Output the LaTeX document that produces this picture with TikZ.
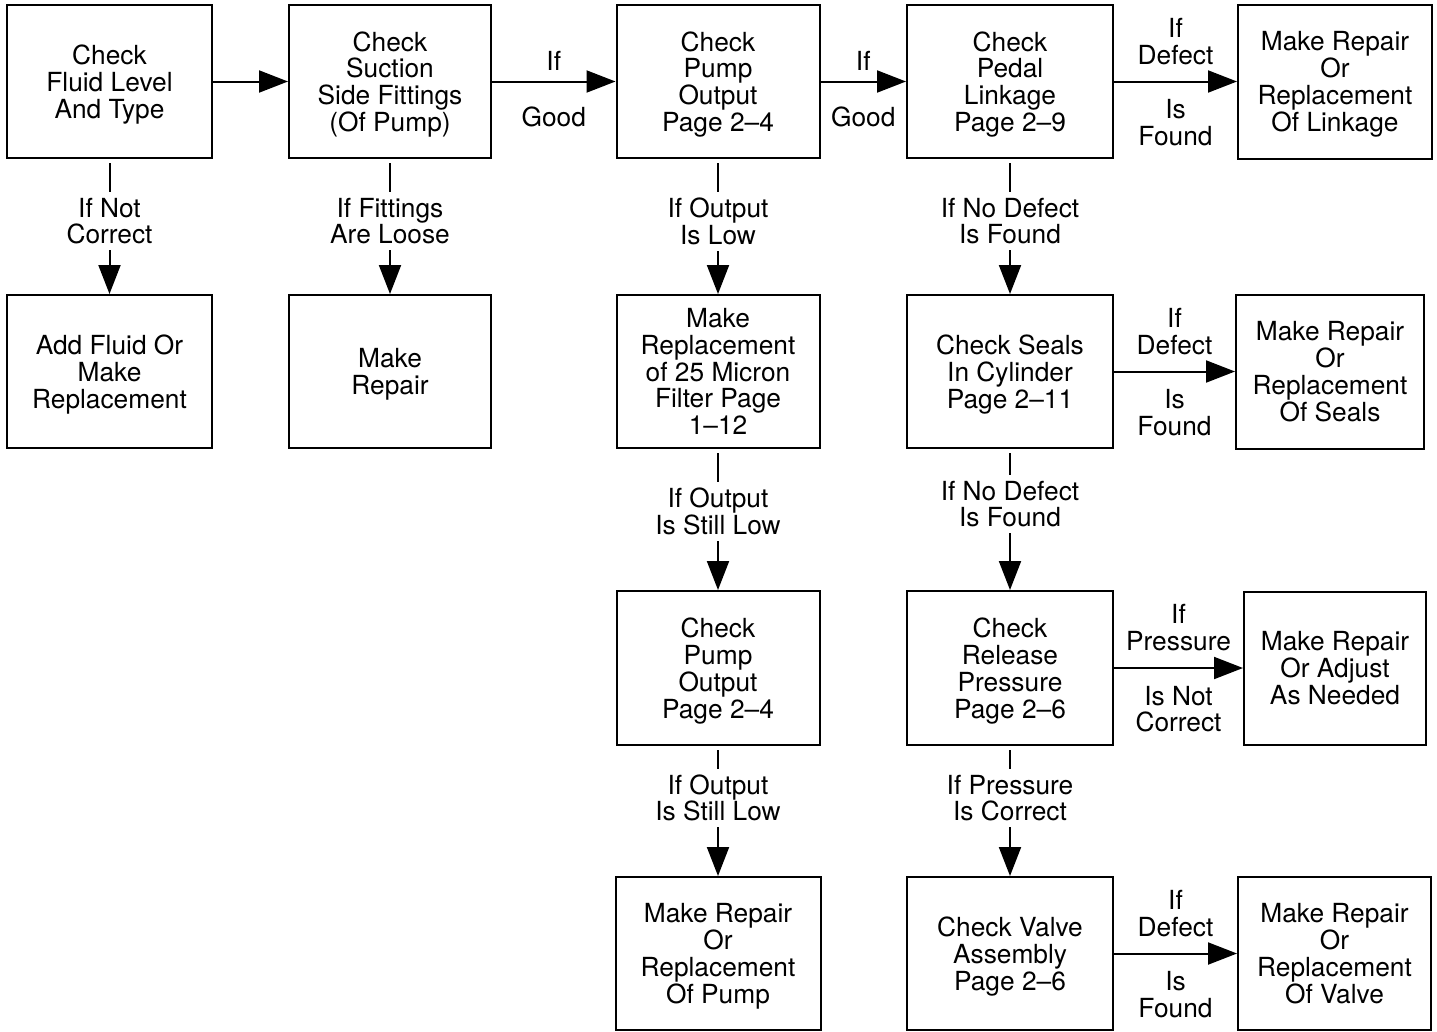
\documentclass[tikz,border=0pt]{standalone}
\usepackage{fontspec}
\setmainfont{TeX Gyre Heros}
\usetikzlibrary{arrows.meta}

\begin{document}
\begin{tikzpicture}[x=1pt,y=-1pt,
  font=\fontsize{26.3}{26.8}\selectfont,
  box/.style={draw,line width=2pt,minimum width=204pt,minimum height=153pt,align=center,inner sep=0pt,text depth=-4pt},
  flow/.style={line width=2pt,-{Triangle[length=29pt,width=22pt]}},
  cond/.style={fill=white,align=center,inner xsep=2pt,inner ysep=6pt,pos=.46},
  condup/.style={above=#1,align=center,inner sep=3pt},
  condup/.default=13pt,
  conddown/.style={below=#1,align=center,inner sep=3pt},
  conddown/.default=14pt]
 \useasboundingbox (0,0) rectangle (1437,1031);
%
 \node[box,minimum width=205pt] (fluid) at (109.5,81.5) {Check\\Fluid Level\\And Type};
 \node[box,minimum width=202pt] (suction) at (390,81.5) {Check\\Suction\\Side Fittings\\(Of Pump)};
 \node[box,minimum width=203pt] (pump) at (718,81.5) {Check\\Pump\\Output\\Page 2--4};
 \node[box,minimum width=206pt] (pedal) at (1010,81.5) {Check\\Pedal\\Linkage\\Page 2--9};
 \node[box,minimum width=194pt,minimum height=154pt] (fixlink) at (1335,81.5) {Make Repair\\Or\\Replacement\\Of Linkage};
%
 \node[box,minimum width=205pt] (addfluid) at (109.5,371.5) {Add Fluid Or\\Make\\Replacement};
 \node[box,minimum width=202pt] (fixfit) at (390,371.5) {Make\\Repair};
 \node[box,minimum width=203pt] (filter) at (718,371.5) {Make\\Replacement\\of 25 Micron\\Filter Page\\1--12};
 \node[box,minimum width=206pt] (seals) at (1010,371.5) {Check Seals\\In Cylinder\\Page 2--11};
 \node[box,minimum width=188pt,minimum height=154pt] (fixseals) at (1330,371.5) {Make Repair\\Or\\Replacement\\Of Seals};
%
 \node[box,minimum width=203pt,minimum height=154pt] (pumpagain) at (718,668) {Check\\Pump\\Output\\Page 2--4};
 \node[box,minimum width=206pt,minimum height=154pt] (release) at (1010,668) {Check\\Release\\Pressure\\Page 2--6};
 \node[box,minimum width=182pt] (adjust) at (1335,668) {Make Repair\\Or Adjust\\As Needed};
%
 \node[box,minimum width=205pt] (fixpump) at (718,953.5) {Make Repair\\Or\\Replacement\\Of Pump};
 \node[box,minimum width=206pt] (valve) at (1010,953.5) {Check Valve\\Assembly\\Page 2--6};
 \node[box,minimum width=193pt] (fixvalve) at (1334.5,953.5) {Make Repair\\Or\\Replacement\\Of Valve};
%
 \draw[flow] (fluid) -- (suction);
 \draw[flow] (suction) -- node[condup=7pt]{If} node[conddown=21pt]{Good} (pump);
 \draw[flow] (pump) -- node[condup=7pt]{If} node[conddown=21pt]{Good} (pedal);
 \draw[flow] (pedal) -- node[condup]{If\\Defect} node[conddown]{Is\\Found} (fixlink);
 \draw[flow] (seals) -- node[condup]{If\\Defect} node[conddown]{Is\\Found} (fixseals);
 \draw[flow] (release) -- node[condup]{If\\Pressure} node[conddown]{Is Not\\Correct} (adjust);
 \draw[flow] (valve) -- node[condup]{If\\Defect} node[conddown]{Is\\Found} (fixvalve);
%
 \draw[flow,shorten <=4pt] (fluid) -- node[cond]{If Not\\Correct} (addfluid);
 \draw[flow,shorten <=4pt] (suction) -- node[cond]{If Fittings\\Are Loose} (fixfit);
 \draw[flow,shorten <=4pt] (pump) -- node[cond]{If Output\\Is Low} (filter);
 \draw[flow,shorten <=4pt] (filter) -- node[cond,pos=.44]{If Output\\Is Still Low} (pumpagain);
 \draw[flow,shorten <=4pt] (pumpagain) -- node[cond,pos=.40]{If Output\\Is Still Low} (fixpump);
 \draw[flow,shorten <=4pt] (pedal) -- node[cond]{If No Defect\\Is Found} (seals);
 \draw[flow,shorten <=4pt] (seals) -- node[cond,pos=.39]{If No Defect\\Is Found} (release);
 \draw[flow,shorten <=4pt] (release) -- node[cond,pos=.40]{If Pressure\\Is Correct} (valve);
\end{tikzpicture}
\end{document}
